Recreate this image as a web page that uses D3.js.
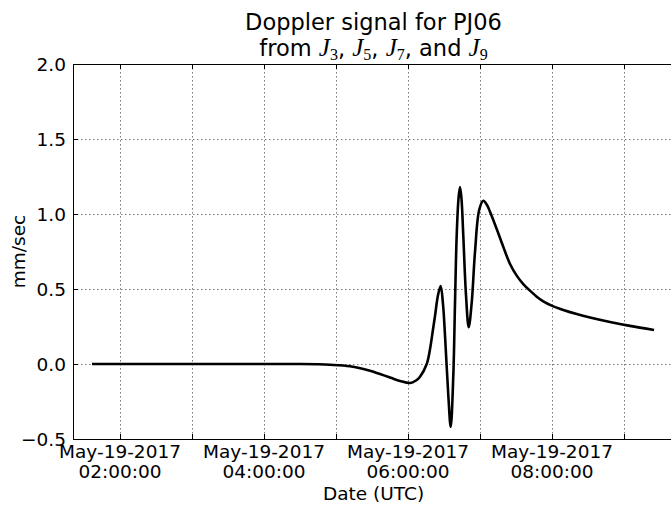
<!DOCTYPE html>
<html>
<head>
<meta charset="utf-8">
<script src="https://cdn.jsdelivr.net/npm/d3@7"></script>
<style>
  html, body { margin: 0; padding: 0; background: #fff; }
  svg { display: block; }
  text { font-family: "DejaVu Sans", sans-serif; fill: #000; white-space: pre; }
</style>
</head>
<body>
<svg id="chart" width="671" height="506"></svg>
<script>
// ---- data ----
// time of each sample, in hours UTC on 2017-05-19
const hoursUTC = [1.611, 2.5, 3.0, 3.5, 4.0, 4.5, 4.75, 4.917, 5.194, 5.472, 5.75, 5.889, 6.028, 6.111, 6.167,
  6.26, 6.306, 6.347, 6.375, 6.417, 6.454, 6.486, 6.514, 6.56, 6.593, 6.629, 6.653, 6.676, 6.701, 6.722,
  6.743, 6.768, 6.806, 6.843, 6.885, 6.931, 6.99, 7.046, 7.097, 7.139, 7.232, 7.324, 7.417, 7.51, 7.601,
  7.694, 7.788, 7.879, 7.996, 8.157, 8.343, 8.528, 8.806, 9.083, 9.417];
// Doppler residual, mm/sec
const doppler = [0, 0, 0, 0, 0, 0, -0.002, -0.005, -0.015, -0.045, -0.09, -0.113, -0.127, -0.11, -0.085,
  0.0, 0.1, 0.23, 0.32, 0.46, 0.52, 0.40, 0.19, -0.21, -0.42, -0.08, 0.41, 0.855, 1.10, 1.18,
  1.10, 0.855, 0.455, 0.245, 0.41, 0.75, 1.03, 1.088, 1.06, 1.015, 0.9, 0.78, 0.667, 0.589, 0.533,
  0.489, 0.449, 0.418, 0.389, 0.36, 0.333, 0.31, 0.28, 0.254, 0.227];
const yTicks = [-0.5, 0.0, 0.5, 1.0, 1.5, 2.0];
const xDomainHours = [1.3472, 9.6944];
const titleLine1 = "Doppler signal for PJ06";
const jTerms = ["3", "5", "7", "9"];
const xLabel = "Date (UTC)";
const yLabel = "mm/sec";

// ---- layout ----
const L = 73, R = 674, T = 64, B = 439;
const day0 = Date.UTC(2017, 4, 19);
const toDate = h => new Date(day0 + h * 3600e3);

const svg = d3.select("#chart");
const x = d3.scaleUtc().domain(xDomainHours.map(toDate)).range([L, R]);
const y = d3.scaleLinear().domain([-0.5, 2.0]).range([B, T]);

const hourTicks = d3.utcHour.range(toDate(2), toDate(9.7));
const fmtDate = d3.utcFormat("%b-%d-%Y");
const fmtTime = d3.utcFormat("%H:%M:%S");

// grid
const grid = svg.append("g");
grid.selectAll("line.vx").data(hourTicks).join("line")
  .attr("x1", d => Math.round(x(d)) + 0.5).attr("x2", d => Math.round(x(d)) + 0.5)
  .attr("y1", T).attr("y2", B)
  .attr("stroke", "#555").attr("stroke-width", 0.8).attr("stroke-dasharray", "1.5,2.5");
grid.selectAll("line.hy").data(yTicks.slice(1, -1)).join("line")
  .attr("x1", L).attr("x2", R)
  .attr("y1", d => Math.round(y(d)) + 0.5).attr("y2", d => Math.round(y(d)) + 0.5)
  .attr("stroke", "#555").attr("stroke-width", 0.8).attr("stroke-dasharray", "1.5,2.5");

// curve
const data = hoursUTC.map((h, i) => ({ t: toDate(h), v: doppler[i] }));
const line = d3.line().x(d => x(d.t)).y(d => y(d.v)).curve(d3.curveCatmullRom.alpha(0.5));
svg.append("path").datum(data).attr("d", line)
  .attr("fill", "none").attr("stroke", "#000").attr("stroke-width", 2.6)
  .attr("stroke-linejoin", "round").attr("stroke-linecap", "butt");

// axes frame
svg.append("rect").attr("x", L + 0.5).attr("y", T + 0.5).attr("width", R - L).attr("height", B - T)
  .attr("fill", "none").attr("stroke", "#000").attr("stroke-width", 1);

// x axis (ticks inward)
const xAxis = d3.axisBottom(x).tickValues(hourTicks).tickSizeInner(-5).tickSizeOuter(0).tickFormat("");
const gx = svg.append("g").attr("transform", `translate(0,${B})`).call(xAxis);
gx.select(".domain").remove();
const xAxisTop = d3.axisTop(x).tickValues(hourTicks).tickSizeInner(-5).tickSizeOuter(0).tickFormat("");
const gxt = svg.append("g").attr("transform", `translate(0,${T})`).call(xAxisTop);
gxt.select(".domain").remove();

const labeled = hourTicks.filter(d => d.getUTCHours() % 2 === 0);
const xl = svg.append("g").selectAll("text").data(labeled).join("text")
  .attr("text-anchor", "middle").attr("font-size", 18.5);
xl.append("tspan").attr("x", d => x(d)).attr("y", B + 19).text(d => fmtDate(d));
xl.append("tspan").attr("x", d => x(d)).attr("y", B + 39).text(d => fmtTime(d));

// y axis
const yAxis = d3.axisLeft(y).tickValues(yTicks).tickSizeInner(-5).tickSizeOuter(0).tickFormat("");
const gy = svg.append("g").attr("transform", `translate(${L},0)`).call(yAxis);
gy.select(".domain").remove();
svg.append("g").selectAll("text").data(yTicks).join("text")
  .attr("x", L - 7).attr("y", d => y(d) + 6.5)
  .attr("text-anchor", "end").attr("font-size", 18.5)
  .text(d => d3.format(".1f")(d));

// axis labels
svg.append("text").attr("x", (L + R) / 2).attr("y", 500)
  .attr("text-anchor", "middle").attr("font-size", 18.5).text(xLabel);
svg.append("text").attr("transform", `translate(25,${(T + B) / 2}) rotate(-90)`)
  .attr("text-anchor", "middle").attr("font-size", 18.5).text(yLabel);

// title
svg.append("text").attr("x", (L + R) / 2).attr("y", 30)
  .attr("text-anchor", "middle").attr("font-size", 22.5).text(titleLine1);
const t2 = svg.append("text").attr("x", (L + R) / 2).attr("y", 56)
  .attr("text-anchor", "middle").attr("font-size", 22.5);
t2.append("tspan").text("from ");
jTerms.forEach((k, i) => {
  t2.append("tspan").attr("font-family", "'Liberation Serif', serif").attr("font-style", "italic")
    .attr("font-size", 25).text("J");
  t2.append("tspan").attr("font-family", "'Liberation Serif', serif").attr("font-size", 16).attr("dy", 4).text(k);
  const sep = i < jTerms.length - 2 ? ", " : (i === jTerms.length - 2 ? ", and " : "");
  t2.append("tspan").attr("dy", -4).text(sep);
});
</script>
</body>
</html>
